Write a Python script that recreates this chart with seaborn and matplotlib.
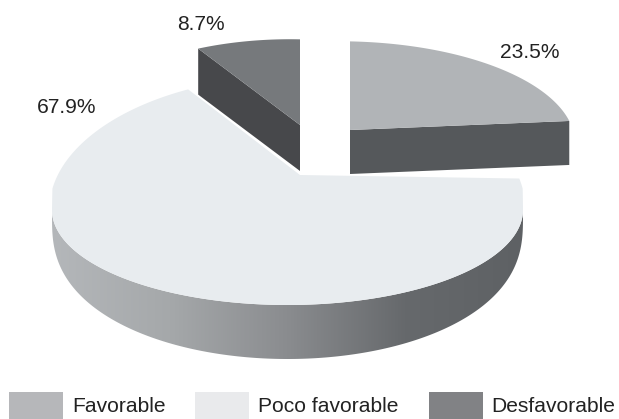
import matplotlib
matplotlib.use("Agg")
import matplotlib.pyplot as plt
import seaborn as sns
import numpy as np
from matplotlib.colors import LinearSegmentedColormap
from matplotlib.patches import Patch, Polygon

categories = ["Favorable", "Poco favorable", "Desfavorable"]
percentages = [23.5, 67.9, 8.7]

top_colors = ["#b1b4b7", "#e8ecef", "#76797c"]
side_colors = ["#55585b", "#8a8c8f", "#47484b"]
legend_colors = ["#b6b7ba", "#e9eaec", "#818285"]
text_color = "#222222"

# where each slice's tip ends up after the explosion, in pixels
slice_tips = [(350, 130), (300, 175), (300, 125)]
slice_scale = [(1.0, 0.90), (1.0, 1.0), (0.91, 0.87)]
slice_depth = [44, 54, 46]
label_pos = [(530, 52), (67, 107), (201, 24)]

sns.set_theme(style="white")
plt.rcParams["font.family"] = ["Liberation Sans", "DejaVu Sans"]

fig = plt.figure(figsize=(6.19, 4.19), dpi=100)
ax = fig.add_axes([0, 0, 1, 1])

wedges, _ = ax.pie(percentages, startangle=90, counterclock=False, frame=True)
ax.set_aspect("auto")
ax.set_xlim(0, 619)
ax.set_ylim(419, 0)
ax.axis("off")


def project(angles, tip, scale):
    # tilted view of the unit circle, the front looks bigger than the back
    u = np.cos(np.radians(angles))
    v = np.sin(np.radians(angles))
    k = 1 / (1 + 0.1375 * v + 0.053 * u)
    return tip[0] + 234.8 * scale[0] * u * k, tip[1] - 112 * scale[1] * v * k


def project_big(angles, tip, scale):
    # the big slice is rounder at the front than a plain ellipse
    x, y = project(angles, tip, scale)
    u = np.cos(np.radians(angles))
    v = np.sin(np.radians(angles))
    front = v < 0
    x[front] = 287.5 + 235.5 * u[front]
    y[front] = 210 - 95 * v[front]
    y[~front] += 15 * (1 - v[~front])
    return x, y


arcs = []
wall_taper = None
for i, wedge in enumerate(wedges):
    angles = np.linspace(wedge.theta1, wedge.theta2, 400)
    if i == 1:
        arcs.append(project_big(angles, slice_tips[i], slice_scale[i]))
        # the wall thins out to nothing at the far left and right
        wall_taper = np.clip(-np.sin(np.radians(angles)), 0, 1) ** 0.4
    else:
        arcs.append(project(angles, slice_tips[i], slice_scale[i]))
    wedge.remove()

# big slice first, the two others sit in front of its back edge
for i in [1, 2, 0]:
    x, y = arcs[i]
    tip = slice_tips[i]
    depth = slice_depth[i]

    if i == 1:
        # round outer wall, shaded from left to right
        low_y = y + depth * wall_taper
        wall = Polygon(np.r_[np.c_[x, y], np.c_[x, low_y][::-1]], closed=True,
                       transform=ax.transData, facecolor="none", edgecolor="none")
        ax.add_patch(wall)
        shade = LinearSegmentedColormap.from_list(
            "wall", ["#b4b7ba", "#a5a8aa", "#8a8c8f", "#66696c", "#5e6164"])
        img = ax.imshow(np.linspace(0, 1, 256).reshape(1, -1), cmap=shade, aspect="auto",
                        extent=(52, 523, 365, 170), zorder=1)
        img.set_clip_path(wall)
    else:
        # flat cut face that shows in front of the slice
        if i == 0:
            edge = (x[0], y[0])
        else:
            edge = (x[-1], y[-1])
        face = [tip, edge, (edge[0], edge[1] + depth), (tip[0], tip[1] + depth)]
        ax.add_patch(Polygon(face, closed=True, facecolor=side_colors[i],
                             edgecolor="none", zorder=i * 2 + 2))

    ax.add_patch(Polygon(np.r_[[tip], np.c_[x, y]], closed=True, facecolor=top_colors[i],
                         edgecolor="none", zorder=i * 2 + 3))

for value, pos in zip(percentages, label_pos):
    ax.text(pos[0], pos[1], f"{value}%", ha="center", va="center", fontsize=15.1,
            color=text_color, zorder=10)

handles = [Patch(facecolor=c, edgecolor="none") for c in legend_colors]
leg = ax.legend(handles, categories, ncol=3, loc="lower left", bbox_to_anchor=(9 / 619, 0),
                frameon=False, fontsize=15.1, labelcolor=text_color, borderpad=0, borderaxespad=0,
                handlelength=2.57, handleheight=1.62, handletextpad=0.43, columnspacing=1.43)

fig.savefig("out.png", dpi=100)
